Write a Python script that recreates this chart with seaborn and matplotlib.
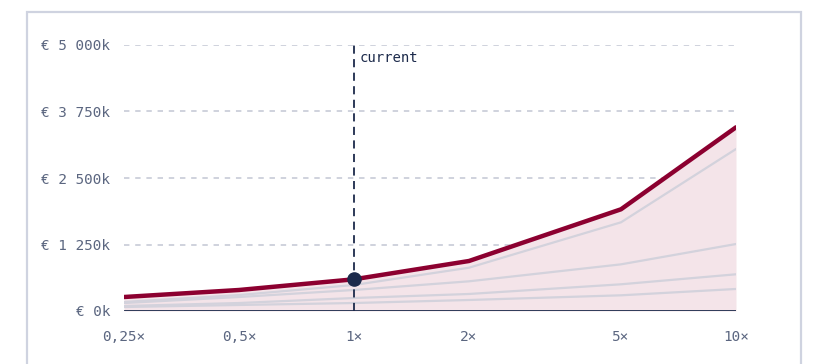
import numpy as np
import pandas as pd
import matplotlib
matplotlib.use("Agg")
import matplotlib.pyplot as plt
from matplotlib.patches import Rectangle
import seaborn as sns

# multipliers on the x axis (log scale) and their labels
multipliers = [0.25, 0.5, 1, 2, 5, 10]
x_labels = ["0,25×", "0,5×", "1×", "2×", "5×", "10×"]

# main scenario (thousands of euro)
total = [263, 395, 596, 940, 1912, 3453]

# faint component lines underneath (thousands of euro)
grey_a = [170, 300, 489, 814, 1667, 3045]
grey_b = [150, 263, 395, 558, 877, 1259]
grey_c = [94, 150, 244, 320, 502, 690]
grey_d = [75, 113, 150, 207, 295, 414]

y_ticks = [0, 1250, 2500, 3750, 5000]
y_labels = ["€ 0k", "€ 1 250k", "€ 2 500k", "€ 3 750k", "€ 5 000k"]
current_x = 1
current_label = "current"

RED = "#8c0030"
NAVY = "#1c2a4b"
FILL = "#f4e4e9"
GRID = "#cbcfda"
TEXT = "#5b6680"
GREYLINE = "#d3d2dc"

sns.set_theme(style="white")
plt.rcParams["font.family"] = ["DejaVu Sans Mono", "DejaVu Sans"]

fig = plt.figure(figsize=(8.13, 3.64), dpi=100)
ax = fig.add_axes([124 / 813, 1 - 311 / 364, (736 - 124) / 813, (311 - 45) / 364])

# card border
fig.patches.append(Rectangle((27 / 813, -0.1), (801 - 27) / 813, 1.1 - 12 / 364,
                             transform=fig.transFigure, fill=False,
                             edgecolor="#cfd3e0", linewidth=1.6, zorder=0))

ax.fill_between(multipliers, 0, total, color=FILL, linewidth=0, zorder=1)

grey = pd.DataFrame({
    "x": multipliers * 4,
    "value": grey_a + grey_b + grey_c + grey_d,
    "series": ["a"] * 6 + ["b"] * 6 + ["c"] * 6 + ["d"] * 6,
})
sns.lineplot(data=grey, x="x", y="value", units="series", estimator=None,
             color=GREYLINE, linewidth=1.6, ax=ax, zorder=2)

for y in y_ticks[1:]:
    ax.axhline(y, color=GRID, linewidth=1.3, linestyle=(0, (3, 3.2)), zorder=0.5)
ax.axhline(0, color=NAVY, linewidth=2.0, zorder=3)

ax.axvline(current_x, color=NAVY, linewidth=1.3, linestyle=(0, (4.5, 3)), zorder=3)
ax.text(current_x * 1.035, 4750, current_label, color=NAVY, fontsize=10,
        va="center", ha="left")

sns.lineplot(x=multipliers, y=total, color=RED, linewidth=3.2, ax=ax, zorder=4,
             solid_capstyle="round")
cur_idx = multipliers.index(current_x)
ax.plot([current_x], [total[cur_idx]], "o", color=NAVY, markersize=9.5, zorder=5)

ax.set_xscale("log")
ax.set_xlim(0.25, 10)
ax.set_ylim(0, 5000)
ax.set_xticks(multipliers)
ax.set_xticklabels(x_labels)
ax.minorticks_off()
ax.set_yticks(y_ticks)
ax.set_yticklabels(y_labels)
ax.tick_params(axis="both", length=0, labelsize=10.4, labelcolor=TEXT)
ax.tick_params(axis="x", pad=14)
ax.tick_params(axis="y", pad=10)
ax.set_xlabel("")
ax.set_ylabel("")
for s in ax.spines.values():
    s.set_visible(False)
ax.patch.set_alpha(0)

fig.savefig("out.png", dpi=100)
